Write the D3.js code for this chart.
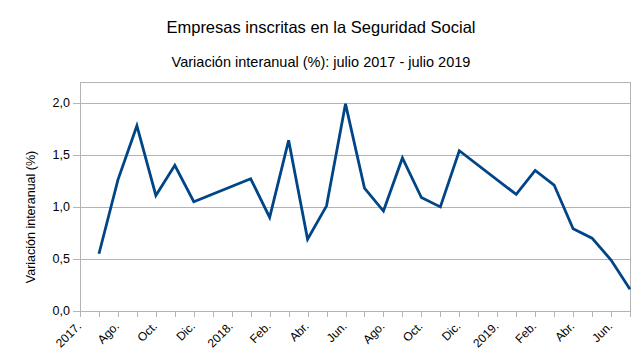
<!DOCTYPE html>
<html>
<head>
<meta charset="utf-8">
<script src="https://cdn.jsdelivr.net/npm/d3@7/dist/d3.min.js"></script>
<style>
  body { margin: 0; background: #fff; }
  text { font-family: "Liberation Sans", Arial, sans-serif; fill: #000; }
</style>
</head>
<body>
<div id="chart"></div>
<script>
"use strict";
// x categories: every other one has a label, position 0 is the empty first slot
var tickLabels = ['2017.', 'Ago.', 'Oct.', 'Dic.', '2018.', 'Feb.', 'Abr.', 'Jun.',
                  'Ago.', 'Oct.', 'Dic.', '2019.', 'Feb.', 'Abr.', 'Jun.'];
// variación interanual (%) at positions 1..29, null where no value
var values = [0.55, 1.26, 1.78, 1.11, 1.40, 1.05, null, null, 1.27, 0.90, 1.64, 0.69, 1.01, 1.99,
              1.18, 0.96, 1.47, 1.09, 1.00, 1.54, null, null, 1.12, 1.35, 1.21, 0.79, 0.70, 0.49, 0.21];
var yTicks = [0, 0.5, 1, 1.5, 2];

var width = 643, height = 361, margin = { top: 82, right: 13, bottom: 50, left: 80 };
var w = width - margin.left - margin.right, h = height - margin.top - margin.bottom;

var svg = d3.select('#chart')
    .append('svg')
    .attr('width', width)
    .attr('height', height);

svg.append('text')
    .text('Empresas inscritas en la Seguridad Social')
    .attr('x', 321)
    .attr('y', 33)
    .attr('text-anchor', 'middle')
    .style('font-size', '16.5px');
svg.append('text')
    .text('Variación interanual (%): julio 2017 - julio 2019')
    .attr('x', 321)
    .attr('y', 67)
    .attr('text-anchor', 'middle')
    .style('font-size', '14.5px');
svg.append('text')
    .text('Variación interanual (%)')
    .attr('transform', 'translate(35,217) rotate(-90)')
    .attr('text-anchor', 'middle')
    .style('font-size', '12.5px');

var g = svg.append('g')
    .attr('transform', 'translate(' + margin.left + ',' + margin.top + ')');

var x = d3.scaleLinear().domain([0, values.length]).range([0, w]);
var y = d3.scaleLinear().domain([0, 2.2]).range([h, 0]);

// grid
g.selectAll('.grid')
    .data(yTicks)
    .enter().append('line')
    .classed('grid', true)
    .attr('x1', -7)
    .attr('x2', w)
    .attr('y1', function (d) { return Math.round(y(d)) + 0.5; })
    .attr('y2', function (d) { return Math.round(y(d)) + 0.5; })
    .attr('stroke', '#b3b3b3');

// frame
g.append('rect')
    .attr('x', 0.5)
    .attr('y', 0.5)
    .attr('width', w)
    .attr('height', h)
    .attr('fill', 'none')
    .attr('stroke', '#b3b3b3');

var fmt = function (d) { return d3.format('.1f')(d).replace('.', ','); };
g.selectAll('.ylab')
    .data(yTicks)
    .enter().append('text')
    .classed('ylab', true)
    .attr('x', -10)
    .attr('y', function (d) { return y(d); })
    .attr('dy', '0.35em')
    .attr('text-anchor', 'end')
    .style('font-size', '12.5px')
    .text(fmt);

// x ticks
g.selectAll('.xtick')
    .data(d3.range(values.length + 1))
    .enter().append('line')
    .classed('xtick', true)
    .attr('x1', function (i) { return Math.round(x(i)) + 0.5; })
    .attr('x2', function (i) { return Math.round(x(i)) + 0.5; })
    .attr('y1', h)
    .attr('y2', h + 6)
    .attr('stroke', '#b3b3b3');

g.selectAll('.xlab')
    .data(tickLabels)
    .enter().append('text')
    .classed('xlab', true)
    .attr('transform', function (d, i) { return 'translate(' + (x(i * 2) + 2) + ',' + (h + 16) + ') rotate(-45)'; })
    .attr('text-anchor', 'end')
    .style('font-size', '12px')
    .text(function (d) { return d; });

var pts = values.map(function (v, i) { return { i: i + 1, v: v }; })
    .filter(function (p) { return p.v !== null; });

var line = d3.line()
    .x(function (p) { return x(p.i); })
    .y(function (p) { return y(p.v); });

g.append('path')
    .datum(pts)
    .attr('d', line)
    .attr('fill', 'none')
    .attr('stroke', '#004586')
    .attr('stroke-width', 2.8)
    .attr('stroke-linejoin', 'miter');
</script>
</body>
</html>
